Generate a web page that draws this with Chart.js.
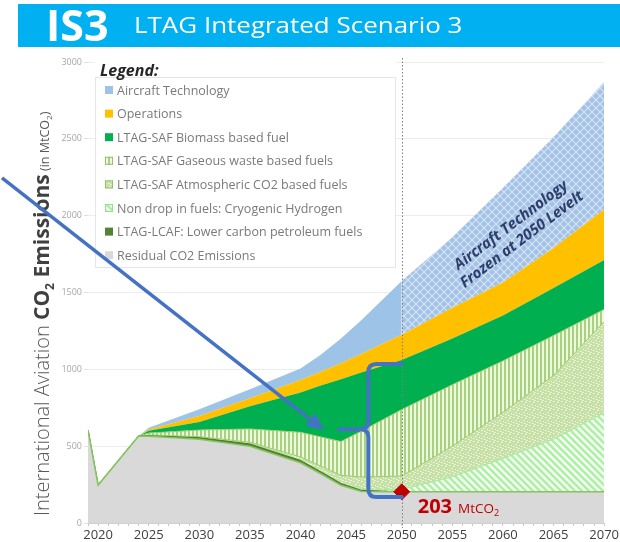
<!DOCTYPE html>
<html>
<head>
<meta charset="utf-8">
<script src="https://cdn.jsdelivr.net/npm/chart.js@4.4.1/dist/chart.umd.min.js"></script>
<style>
  html, body { margin: 0; padding: 0; background: #fff; overflow: hidden; }
  #wrap { position: relative; width: 620px; height: 542px; }
  #chart { position: absolute; left: 0; top: 0; }
  #header { position: absolute; left: 18px; top: 4px; width: 602px; height: 43px; background: #00b0f0; color: #fff; font-family: 'Open Sans', sans-serif; white-space: nowrap; }
  #header .big { position: absolute; left: 28px; top: -9px; font-size: 43px; font-weight: 700; }
  #header .sub { position: absolute; left: 116px; top: 5px; font-size: 22px; transform: scaleX(1.18); transform-origin: left center; }
</style>
</head>
<body>
<div id="wrap">
  <canvas id="chart" width="620" height="542"></canvas>
  <div id="header"><span class="big">IS3</span><span class="sub">LTAG Integrated Scenario 3</span></div>
</div>
<script>
// values (MtCO2, each layer's own contribution)
const years       = [2019, 2020, 2024, 2025, 2030, 2035, 2040, 2042, 2044, 2046, 2050, 2055, 2060, 2065, 2070];
const residual    = [605, 247, 566, 565, 545, 500, 392, 320, 245, 205, 203, 203, 203, 203, 203];
const lcaf        = [0, 0, 0, 3, 10, 14, 15, 14, 12, 8, 0, 0, 0, 0, 0];
const hydrogen    = [0, 0, 0, 0, 0, 0, 0, 0, 2, 8, 15, 97, 217, 342, 513];
const atmospheric = [0, 0, 0, 4, 7, 11, 23, 36, 51, 79, 87, 200, 300, 415, 594];
const gaseous     = [0, 0, 0, 13, 43, 87, 160, 190, 220, 297, 433, 400, 335, 260, 80];
const biomass     = [0, 0, 0, 15, 52, 148, 260, 335, 405, 383, 323, 300, 295, 310, 322];
const operations  = [0, 0, 0, 8, 40, 52, 80, 90, 105, 120, 164, 200, 215, 260, 328];
const aircraft    = [0, 0, 0, 12, 43, 58, 75, 110, 160, 220, 350, 460, 615, 720, 830];

const markerYear = 2050;
const markerValue = 203;
const xTickLabels = [2020, 2025, 2030, 2035, 2040, 2045, 2050, 2055, 2060, 2065, 2070];
const yTickStep = 500;

const FONT = '"Open Sans", sans-serif';
Chart.defaults.font.family = FONT;

function makePattern(w, h, draw) {
  const c = document.createElement('canvas');
  c.width = w; c.height = h;
  const g = c.getContext('2d');
  draw(g);
  return g.createPattern(c, 'repeat');
}

const vStripes = makePattern(4, 4, g => {
  g.fillStyle = '#eef7df'; g.fillRect(0, 0, 4, 4);
  g.fillStyle = '#a9d27e'; g.fillRect(0, 0, 2, 4);
});
const dots = makePattern(8, 8, g => {
  g.fillStyle = '#c7e0a6'; g.fillRect(0, 0, 8, 8);
  g.fillStyle = '#f6fbef';
  [[1, 1], [5, 2], [3, 4], [7, 5], [1, 6], [4, 7], [6, 0]].forEach(([x, y]) => g.fillRect(x, y, 1.5, 1));
});
const diag = makePattern(7, 7, g => {
  g.fillStyle = '#f2fff0'; g.fillRect(0, 0, 7, 7);
  g.strokeStyle = '#aeeea6'; g.lineWidth = 2.4;
  g.beginPath();
  g.moveTo(-1, -1); g.lineTo(8, 8);
  g.moveTo(-8, -1); g.lineTo(1, 8);
  g.moveTo(6, -1); g.lineTo(15, 8);
  g.stroke();
});
const cross = makePattern(8, 8, g => {
  g.fillStyle = '#a3c2e6'; g.fillRect(0, 0, 8, 8);
  g.strokeStyle = '#d3e3f6'; g.lineWidth = 1.2;
  g.beginPath();
  g.moveTo(0, 0); g.lineTo(8, 8);
  g.moveTo(8, 0); g.lineTo(0, 8);
  g.stroke();
});

const pts = arr => years.map((x, i) => ({ x, y: arr[i] }));

function layer(label, arr, bg, border, bw, fill) {
  return {
    type: 'line', label, data: pts(arr), stack: 'co2',
    backgroundColor: bg, borderColor: border, borderWidth: bw,
    fill, pointRadius: 0, tension: 0
  };
}

const datasets = [
  {
    type: 'scatter', label: 'marker', stack: 'marker',
    data: [{ x: markerYear, y: markerValue }],
    pointStyle: 'rectRot', pointRadius: 8,
    backgroundColor: '#c00000', borderColor: '#c00000'
  },
  layer('Residual CO2 Emissions', residual, '#d9d9d9', '#86c45e', 1.6, 'origin'),
  layer('LTAG-LCAF: Lower carbon petroleum fuels', lcaf, '#548235', '#4a7a2c', 1, '-1'),
  layer('Non drop in fuels: Cryogenic Hydrogen', hydrogen, diag, '#a6e9a0', 1, '-1'),
  layer('LTAG-SAF Atmospheric CO2 based fuels', atmospheric, dots, '#9ccc6e', 1, '-1'),
  layer('LTAG-SAF Gaseous waste based fuels', gaseous, vStripes, '#9ccc6e', 1, '-1'),
  layer('LTAG-SAF Biomass based fuel', biomass, '#00b050', 'transparent', 0, '-1'),
  layer('Operations', operations, '#ffc000', 'transparent', 0, '-1'),
  Object.assign(layer('Aircraft Technology', aircraft, '#9dc3e6', 'transparent', 0, '-1'), {
    segment: { backgroundColor: c => c.p0.parsed.x >= 2050 ? cross : '#9dc3e6' }
  })
];

const legendSwatch = {
  'Aircraft Technology': ['#9dc3e6', null],
  'Operations': ['#ffc000', null],
  'LTAG-SAF Biomass based fuel': ['#00b050', null],
  'LTAG-SAF Gaseous waste based fuels': [vStripes, '#8cc461'],
  'LTAG-SAF Atmospheric CO2 based fuels': [dots, '#8cc461'],
  'Non drop in fuels: Cryogenic Hydrogen': [diag, '#8fe486'],
  'LTAG-LCAF: Lower carbon petroleum fuels': ['#548235', null],
  'Residual CO2 Emissions': ['#d9d9d9', null]
};

function drawParts(ctx, parts) {
  let x = 0;
  parts.forEach(p => {
    ctx.font = p.f; ctx.fillStyle = p.c;
    ctx.fillText(p.t, x, p.dy);
    x += ctx.measureText(p.t).width;
  });
}

const decor = {
  id: 'decor',
  beforeDatasetDraw(chart, args) {
    if (args.index !== 0) return;
    const { ctx, chartArea, scales: { x } } = chart;
    const xp = Math.round(x.getPixelForValue(markerYear)) + 0.5;
    ctx.save();
    ctx.strokeStyle = '#7f7f7f'; ctx.lineWidth = 1; ctx.setLineDash([1.5, 2]);
    ctx.beginPath(); ctx.moveTo(xp, chartArea.top - 4); ctx.lineTo(xp, chartArea.bottom + 5); ctx.stroke();
    ctx.restore();
  },
  afterDraw(chart) {
    const { ctx, scales: { x, y } } = chart;
    const px = v => x.getPixelForValue(v);
    const py = v => y.getPixelForValue(v);
    ctx.save();

    // legend panel
    ctx.fillStyle = '#fff';
    ctx.fillRect(95, 57, 301, 211);
    ctx.strokeStyle = '#e6e6e6'; ctx.lineWidth = 1;
    ctx.strokeRect(95.5, 77.5, 300, 190);
    ctx.font = 'italic bold 16px ' + FONT; ctx.fillStyle = '#262626';
    ctx.textBaseline = 'alphabetic';
    ctx.fillText('Legend:', 100, 76);
    const items = chart.data.datasets.slice(1).reverse();
    items.forEach((d, i) => {
      const cy = 90 + i * 23.6;
      const [fillS, strokeS] = legendSwatch[d.label];
      ctx.fillStyle = fillS; ctx.fillRect(105, cy - 4, 8, 8);
      if (strokeS) { ctx.strokeStyle = strokeS; ctx.strokeRect(105.5, cy - 3.5, 7, 7); }
      ctx.font = '12.5px ' + FONT; ctx.fillStyle = '#7a7a7a';
      ctx.fillText(d.label, 117, cy + 4.5);
    });

    // y axis title
    ctx.save();
    ctx.translate(49, 516); ctx.rotate(-Math.PI / 2);
    drawParts(ctx, [
      { t: 'International Aviation ', f: '300 20px ' + FONT, c: '#595959', dy: 0 },
      { t: 'CO', f: 'bold 21px ' + FONT, c: '#404040', dy: 0 },
      { t: '2', f: 'bold 12px ' + FONT, c: '#404040', dy: 5 },
      { t: ' Emissions', f: 'bold 21px ' + FONT, c: '#404040', dy: 0 },
      { t: ' (in MtCO', f: '12.5px ' + FONT, c: '#595959', dy: 0 },
      { t: '2', f: '8px ' + FONT, c: '#595959', dy: 2.5 },
      { t: ')', f: '12.5px ' + FONT, c: '#595959', dy: 0 }
    ]);
    ctx.restore();

    // frozen-technology note
    ctx.save();
    ctx.translate(px(2061.3), py(1894));
    ctx.rotate(-37 * Math.PI / 180);
    ctx.font = 'italic bold 15px ' + FONT; ctx.fillStyle = '#2f3d6b';
    ctx.textAlign = 'center';
    ctx.fillText('Aircraft Technology', 0, -4);
    ctx.fillText('Frozen at 2050 Levelt', 0, 14);
    ctx.restore();

    // 203 MtCO2 label
    let lx = px(markerYear) + 16, ly = py(markerValue) + 21;
    ctx.fillStyle = '#c00000';
    ctx.font = 'bold 20px ' + FONT; ctx.fillText('203', lx, ly);
    lx += ctx.measureText('203').width + 6;
    ctx.font = '13.5px ' + FONT; ctx.fillText('MtCO', lx, ly);
    lx += ctx.measureText('MtCO').width;
    ctx.font = '9px ' + FONT; ctx.fillText('2', lx, ly + 3);

    // blue arrow
    const ax0 = px(2010.5), ay0 = py(2246), ax1 = px(2042.3), ay1 = py(605);
    const ang = Math.atan2(ay1 - ay0, ax1 - ax0);
    const hl = 17, hw = 8;
    ctx.strokeStyle = '#4472c4'; ctx.fillStyle = '#4472c4'; ctx.lineWidth = 3.5;
    ctx.beginPath(); ctx.moveTo(ax0, ay0);
    ctx.lineTo(ax1 - Math.cos(ang) * hl, ay1 - Math.sin(ang) * hl); ctx.stroke();
    ctx.beginPath();
    ctx.moveTo(ax1, ay1);
    ctx.lineTo(ax1 - Math.cos(ang) * hl - Math.sin(ang) * hw, ay1 - Math.sin(ang) * hl + Math.cos(ang) * hw);
    ctx.lineTo(ax1 - Math.cos(ang) * hl + Math.sin(ang) * hw, ay1 - Math.sin(ang) * hl - Math.cos(ang) * hw);
    ctx.closePath(); ctx.fill();

    // brace
    const xb = px(2046.7), xr = px(2050), xm = px(2043.8);
    const yt = py(1035), ym = py(610), yb = py(170), r = 8;
    ctx.lineWidth = 4; ctx.lineCap = 'round';
    ctx.beginPath();
    ctx.moveTo(xr, yt); ctx.lineTo(xb + r, yt);
    ctx.quadraticCurveTo(xb, yt, xb, yt + r);
    ctx.lineTo(xb, ym - r);
    ctx.quadraticCurveTo(xb, ym, xb - r, ym);
    ctx.lineTo(xm, ym);
    ctx.moveTo(xb - r, ym);
    ctx.quadraticCurveTo(xb, ym, xb, ym + r);
    ctx.lineTo(xb, yb - r);
    ctx.quadraticCurveTo(xb, yb, xb + r, yb);
    ctx.lineTo(xr, yb);
    ctx.stroke();

    ctx.restore();
  }
};

const allYears = [];
for (let yr = 2019; yr <= 2070; yr++) allYears.push(yr);

new Chart(document.getElementById('chart'), {
  type: 'line',
  data: { datasets },
  options: {
    responsive: false,
    animation: false,
    events: [],
    layout: { padding: { top: 62, left: 0, right: 0, bottom: 0 } },
    plugins: { legend: { display: false }, tooltip: { enabled: false } },
    scales: {
      x: {
        type: 'linear', min: 2019, max: 2070,
        afterBuildTicks: s => { s.ticks = allYears.map(v => ({ value: v })); },
        ticks: {
          autoSkip: false, maxRotation: 0, padding: 1,
          color: '#404040', font: { size: 13 },
          callback: v => xTickLabels.includes(v) ? String(v) : ''
        },
        grid: { drawOnChartArea: false, tickLength: 3, color: '#c8c8c8' },
        border: { color: '#d0d0d0' },
        afterFit: s => { s.height = 19; }
      },
      y: {
        stacked: true, min: 0, max: 3000,
        ticks: { stepSize: yTickStep, color: '#a6a6a6', font: { size: 9 }, padding: 2, callback: v => String(v) },
        grid: { color: '#ececec', tickLength: 4, tickColor: '#e0e0e0' },
        border: { display: false },
        afterFit: s => { s.width = 88; }
      }
    }
  },
  plugins: [decor]
});
</script>
</body>
</html>
